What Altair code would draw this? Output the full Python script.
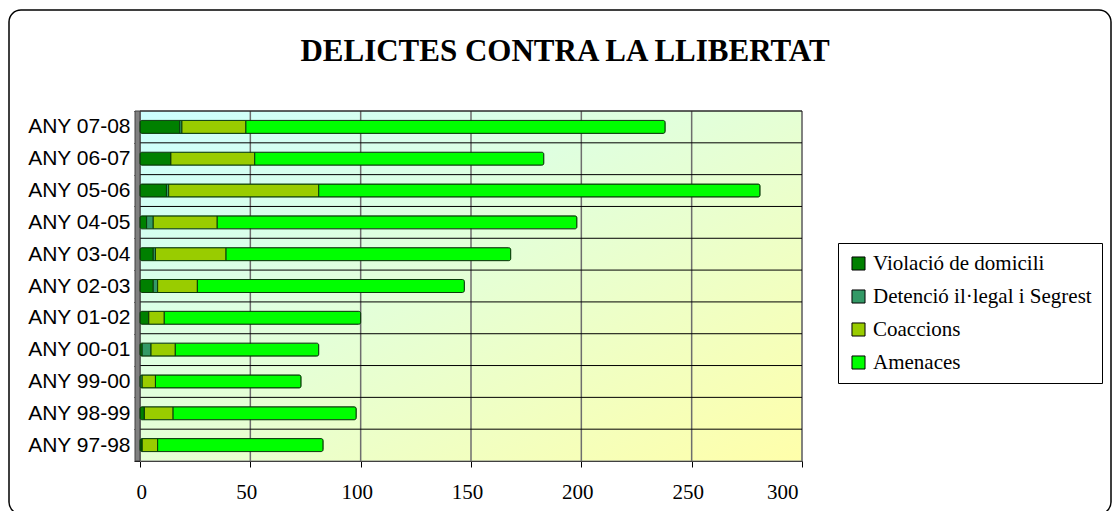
import altair as alt
import pandas as pd

cats = ["ANY 97-98", "ANY 98-99", "ANY 99-00", "ANY 00-01", "ANY 01-02", "ANY 02-03",
        "ANY 03-04", "ANY 04-05", "ANY 05-06", "ANY 06-07", "ANY 07-08"]
series = ["Violació de domicili", "Detenció il·legal i Segrest", "Coaccions", "Amenaces"]
violacio = [1, 2, 0, 1, 4, 6, 6, 3, 12, 14, 18]
detencio = [0, 0, 1, 4, 0, 2, 1, 3, 1, 0, 1]
coaccions = [7, 13, 6, 11, 7, 18, 32, 29, 68, 38, 29]
amenaces = [75, 83, 66, 65, 89, 121, 129, 163, 200, 131, 190]
colors = ["#008000", "#339966", "#99CC00", "#00FF00"]
x_ticks = [0, 50, 100, 150, 200, 250, 300]
title = "DELICTES CONTRA LA LLIBERTAT"

rows = []
for i, c in enumerate(cats):
    for j, (s, vals) in enumerate(zip(series, [violacio, detencio, coaccions, amenaces])):
        rows.append({"any": c, "serie": s, "valor": vals[i], "ordre": j})
df = pd.DataFrame(rows)
cat_df = pd.DataFrame({"any": cats})
tick_df = pd.DataFrame({"v": x_ticks})

W, H = 662, 350
serif = "Liberation Serif"
sans = "Liberation Sans"
ysort = list(reversed(cats))
xscale = alt.Scale(domain=[0, 300], nice=False)

one = pd.DataFrame({"a": [0]})

bg = alt.Chart(one).mark_rect(
    fill=alt.LinearGradient(
        gradient="linear",
        stops=[alt.GradientStop(color="#CCFFFF", offset=0),
               alt.GradientStop(color="#FFFFAA", offset=1)],
        x1=0, y1=0, x2=1, y2=1),
    stroke="#808080", strokeWidth=1
).encode(x=alt.value(0), x2=alt.value(W), y=alt.value(0), y2=alt.value(H))

vgrid = alt.Chart(tick_df).mark_rule(color="#6E6E6E", strokeWidth=1.5).encode(
    x=alt.X("v:Q", scale=xscale), y=alt.value(0), y2=alt.value(H))

hgrid = alt.Chart(cat_df).mark_rule(color="black", strokeWidth=1).encode(
    y=alt.Y("any:N", sort=ysort, bandPosition=0), x=alt.value(0), x2=alt.value(W))

wall = alt.Chart(one).mark_rect(fill="#808080", stroke="#404040", strokeWidth=1).encode(
    x=alt.value(-5), x2=alt.value(0), y=alt.value(0), y2=alt.value(H))

bars = alt.Chart(df).mark_bar(size=13, stroke="#0a3a0a", strokeWidth=1, cornerRadius=2).encode(
    y=alt.Y("any:N", sort=ysort, title=None,
            axis=alt.Axis(labelFont=sans, labelFontSize=21, labelColor="black",
                          tickBand="extent", grid=False,
                          domainColor="#808080", domainWidth=1, tickColor="black",
                          tickSize=6, labelPadding=4)),
    x=alt.X("valor:Q", stack="zero", title=None, scale=xscale,
            axis=alt.Axis(values=x_ticks, labelFont=serif, labelFontSize=21,
                          labelColor="black", grid=False, domainColor="black",
                          tickColor="black", tickSize=6, labelPadding=14,
                          labelOffset=-4)),
    color=alt.Color("serie:N", sort=series,
                    scale=alt.Scale(domain=series, range=colors),
                    legend=alt.Legend(title=None, orient="none", legendX=698, legendY=132,
                                      labelFont=serif, labelFontSize=21, labelColor="black",
                                      symbolType="square", symbolSize=170,
                                      symbolStrokeColor="black", symbolStrokeWidth=1,
                                      symbolOpacity=1,
                                      strokeColor="black", fillColor="white",
                                      padding=10, rowPadding=11, labelLimit=400)),
    order=alt.Order("ordre:Q"),
)

ttl = alt.Chart(one).mark_text(font=serif, fontSize=31, fontWeight="bold", color="black",
                               align="center", baseline="alphabetic").encode(
    x=alt.value(425), y=alt.value(-50), text=alt.value(title))

border = alt.Chart(one).mark_rect(fill=None, fillOpacity=0, stroke="black", strokeWidth=1.5,
                                  cornerRadius=12).encode(
    x=alt.value(-131), x2=alt.value(971), y=alt.value(-101), y2=alt.value(403))

chart = alt.layer(bg, vgrid, hgrid, wall, bars, ttl, border).properties(
    width=W, height=H,
    autosize=alt.AutoSizeParams(type="none"),
    padding={"left": 132, "top": 103, "right": 310, "bottom": 50},
    background="white",
).configure_view(strokeWidth=0)

chart.save("out.html", embed_options={"renderer": "svg", "actions": False})
